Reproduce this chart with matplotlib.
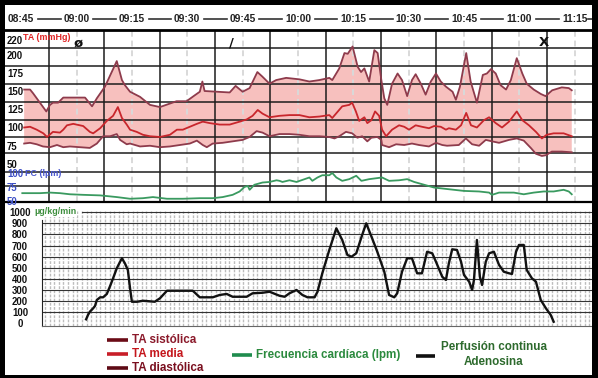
import matplotlib
matplotlib.use("Agg")
import matplotlib.pyplot as plt
from matplotlib.lines import Line2D
from matplotlib.patches import Rectangle
import numpy as np

plt.rcParams["font.family"] = ["Liberation Sans", "DejaVu Sans"]
plt.rcParams["font.weight"] = "bold"

W, H = 598, 378

# ── data (time = minutes after 08:45) ────────────────────────────────────
TIME_LABELS = ["08:45", "09:00", "09:15", "09:30", "09:45", "10:00",
               "10:15", "10:30", "10:45", "11:00", "11:15"]
TA_TICKS = [220, 200, 175, 150, 125, 100, 75, 50]
FC_TICKS = [100, 75, 50]
PERF_TICKS = [0, 100, 200, 300, 400, 500, 600, 700, 800, 900, 1000]

sys_t = [0.8, 2.4, 3.2, 6.8, 7.8, 8.6, 10.0, 11.4, 17.3, 19.2,
         20.5, 22.7, 25.9, 27.3, 28.1, 29.5, 32.2, 34.9, 37.6, 42.1,
         44.8, 47.0, 48.4, 49.1, 49.7, 56.5, 58.1, 60.0, 61.9, 64.0,
         65.3, 67.3, 69.1, 71.8, 75.4, 78.1, 80.8, 83.5, 84.3, 86.2,
         87.6, 88.5, 89.8, 91.2, 92.1, 93.0, 94.3, 95.7, 96.6, 97.6,
         98.4, 99.2, 100.5, 102.0, 103.2, 104.6, 105.9, 106.9, 108.3, 109.6,
         111.0, 112.4, 113.7, 115.1, 116.9, 117.8, 118.9, 120.6, 121.8, 123.5,
         125.1, 126.2, 127.3, 128.6, 129.9, 131.4, 132.7, 134.3, 135.8, 137.0,
         138.9, 140.8, 142.1, 143.9, 146.5, 148.4, 149.2]
sys_v = [152, 152, 147, 122, 131, 134, 134, 141, 141, 129,
         140, 156, 191, 165, 158, 149, 142, 131, 128, 136,
         136, 144, 149, 163, 150, 148, 157, 149, 154, 176,
         170, 160, 165, 168, 166, 163, 165, 168, 165, 181,
         202, 201, 211, 183, 176, 181, 163, 206, 202, 165,
         140, 131, 160, 174, 165, 143, 165, 173, 160, 145,
         163, 174, 163, 156, 149, 138, 156, 202, 163, 134,
         172, 174, 180, 174, 158, 152, 165, 195, 174, 160,
         152, 146, 143, 151, 155, 154, 151]

med_t = [0.8, 2.4, 4.2, 6.0, 7.0, 8.6, 10.5, 11.4, 12.4, 14.1,
         16.8, 18.6, 19.5, 21.4, 23.2, 24.9, 26.2, 27.3, 28.6, 29.5,
         31.3, 33.0, 34.9, 37.6, 40.3, 42.2, 43.8, 45.7, 47.6, 49.2,
         51.1, 53.8, 56.5, 59.2, 61.1, 62.7, 64.1, 65.4, 67.3, 70.0,
         72.7, 75.4, 78.1, 80.8, 83.5, 84.3, 87.0, 88.9, 89.7, 90.7,
         91.6, 93.0, 93.8, 94.9, 95.9, 97.0, 97.8, 98.9, 100.5, 102.4,
         103.8, 105.1, 106.9, 108.6, 110.5, 111.9, 113.7, 115.1, 115.9, 117.8,
         119.2, 120.6, 121.9, 123.5, 125.4, 126.8, 128.6, 130.3, 132.2, 134.3,
         135.8, 137.6, 139.5, 141.1, 142.4, 144.3, 147.0, 149.2]
med_v = [100, 101, 97, 92, 87, 94, 93, 97, 103, 105,
         102, 94, 92, 99, 109, 116, 128, 113, 104, 97,
         94, 90, 88, 87, 90, 97, 97, 101, 105, 108,
         106, 104, 104, 108, 111, 116, 124, 119, 114, 116,
         117, 117, 114, 115, 117, 113, 129, 131, 134, 122,
         109, 114, 106, 110, 122, 116, 97, 88, 97, 103,
         101, 97, 103, 101, 99, 102, 101, 97, 99, 97,
         103, 120, 103, 100, 110, 114, 106, 100, 108, 122,
         110, 103, 94, 85, 90, 92, 92, 88]

dia_t = [0.8, 2.4, 4.2, 5.9, 7.8, 9.7, 11.4, 13.2, 15.9, 18.6,
         20.5, 22.2, 24.1, 25.9, 26.8, 28.6, 29.5, 32.2, 34.9, 37.6,
         40.3, 43.0, 45.7, 47.6, 49.2, 50.3, 51.9, 54.6, 57.3, 60.0,
         61.9, 63.8, 65.4, 67.3, 70.0, 72.7, 75.4, 78.1, 80.8, 83.5,
         84.9, 86.2, 88.0, 89.7, 91.1, 92.4, 93.8, 94.9, 96.5, 97.6,
         97.8, 99.7, 101.6, 103.8, 105.9, 107.8, 110.5, 112.4, 114.1, 115.4,
         118.6, 120.5, 122.2, 124.1, 125.9, 127.6, 129.5, 132.2, 134.3, 136.2,
         138.1, 139.5, 141.1, 142.2, 143.8, 146.5, 149.2]
dia_v = [78, 79, 77, 74, 73, 76, 73, 74, 73, 72,
         78, 88, 88, 91, 83, 77, 78, 74, 75, 73,
         74, 76, 78, 82, 76, 73, 78, 79, 81, 83,
         87, 95, 93, 88, 91, 91, 90, 88, 88, 87,
         85, 88, 94, 92, 86, 88, 81, 86, 87, 83,
         76, 73, 77, 76, 78, 76, 74, 79, 76, 75,
         76, 85, 77, 75, 83, 81, 79, 83, 85, 82,
         72, 64, 61, 62, 67, 67, 66]

fc_t = [0.3, 5.1, 7.8, 10.5, 13.2, 16.8, 21.4, 25.9, 29.5, 33.0,
        35.7, 39.5, 43.8, 48.4, 51.9, 54.6, 57.3, 59.2, 60.5, 61.4,
        61.9, 63.2, 65.4, 67.3, 69.2, 70.0, 70.8, 72.7, 74.6, 76.8,
        78.1, 78.9, 80.3, 81.6, 83.5, 84.3, 85.4, 87.0, 88.9, 90.8,
        92.2, 94.3, 97.8, 99.7, 102.4, 104.6, 106.5, 109.2, 111.9, 115.9,
        120.0, 124.1, 126.8, 127.6, 129.5, 133.5, 136.2, 138.9, 141.6, 144.3,
        147.0, 148.4, 149.2]
fc_v = [64, 64, 65, 64, 62, 61, 60, 57, 54, 55,
        57, 54, 54, 55, 55, 57, 61, 67, 75, 77,
        70, 79, 83, 84, 87, 86, 84, 87, 84, 89,
        92, 86, 92, 96, 96, 100, 92, 86, 89, 95,
        86, 89, 92, 86, 87, 89, 84, 79, 74, 71,
        68, 67, 65, 61, 65, 65, 62, 65, 67, 67,
        70, 67, 62]

perf_t = [17.6, 18.1, 18.6, 19.5, 20.0, 20.5, 21.4, 22.2, 23.2, 24.1,
          24.9, 25.9, 26.8, 27.3, 28.1, 28.9, 29.5, 30.0, 31.4, 33.0,
          36.2, 37.6, 39.5, 41.6, 46.5, 48.4, 51.9, 53.8, 55.7, 57.3,
          61.1, 62.7, 65.4, 67.3, 70.0, 71.4, 72.7, 74.6, 76.2, 77.6,
          79.5, 80.3, 81.6, 83.5, 85.4, 87.0, 88.4, 89.5, 90.8, 92.4,
          93.5, 95.1, 96.5, 98.4, 99.7, 101.1, 101.9, 103.2, 104.6, 105.9,
          107.3, 108.6, 110.0, 111.4, 112.4, 114.1, 115.1, 115.9, 116.8, 118.1,
          119.2, 120.0, 121.4, 122.2, 122.7, 123.5, 124.3, 124.9, 125.9, 126.8,
          128.1, 129.5, 130.8, 132.2, 133.0, 134.1, 134.9, 136.2, 137.0, 138.4,
          139.5, 140.8, 142.2, 143.5, 144.3]
perf_v = [36, 75, 104, 135, 156, 210, 234, 234, 264, 336,
          405, 495, 554, 585, 540, 480, 315, 194, 194, 203,
          194, 225, 293, 293, 293, 234, 234, 255, 264, 239,
          239, 270, 275, 284, 248, 239, 270, 300, 255, 234,
          234, 284, 450, 660, 855, 750, 615, 599, 630, 795,
          900, 765, 644, 464, 255, 234, 270, 464, 585, 585,
          450, 450, 644, 630, 554, 419, 390, 540, 666, 660,
          554, 435, 374, 300, 390, 750, 419, 345, 554, 630,
          644, 525, 464, 450, 444, 644, 705, 705, 480, 405,
          374, 210, 135, 75, 14]

# event marks drawn on top of the TA panel
event_t = [15.4, 57.0, 141.6]
event_mark = ["ø", "/", "X"]

# ── layout helpers ───────────────────────────────────────────────────────
fig = plt.figure(figsize=(W / 100, H / 100), dpi=100)
fig.patch.set_facecolor("white")


def px_axes(x0, y0, x1, y1):
    return fig.add_axes([x0 / W, 1 - y1 / H, (x1 - x0) / W, (y1 - y0) / H])


def t_of_px(x):
    return (x - 21.2) / 3.69


def fig_text(x, y, s, size, **kw):
    fig.text(x / W, 1 - y / H, s, va="center", fontsize=size, **kw)


def fig_line(x0, x1, y, color, lw=2.6):
    fig.add_artist(Line2D([x0 / W, x1 / W], [1 - y / H] * 2, transform=fig.transFigure,
                          color=color, lw=lw, solid_capstyle="butt"))


XL = (t_of_px(5), t_of_px(592))
GRID = "#1c1c1c"
TICK_FS = 6.9

# ── header with times ────────────────────────────────────────────────────
hax = px_axes(5, 5, 592, 29)
hax.set_xlim(XL)
hax.set_ylim(0, 1)
hax.axis("off")
for k, lab in enumerate(TIME_LABELS):
    hax.text(15 * k, 0.43, lab, ha="center", va="center", fontsize=7.4, color="#222")
    if k < len(TIME_LABELS) - 1:
        hax.plot([15 * k + 4.5, 15 * k + 10.7], [0.43, 0.43], color="#333", lw=1.2)
hax.plot([15 * 10 + 3.7, 15 * 10 + 4.9], [0.43, 0.43], color="#333", lw=1.2)

# ── upper panel: TA + FC ─────────────────────────────────────────────────
ax = px_axes(5, 30, 592, 202)
ax.set_xlim(XL)
ax.set_ylim(-2.1, 233.6)
for s in ["left", "right"]:
    ax.spines[s].set_visible(False)
ax.spines["top"].set_linewidth(2.0)
ax.spines["bottom"].set_linewidth(1.6)
ax.set_xticks([])
ax.set_yticks(TA_TICKS, [str(v) for v in TA_TICKS])
ax.tick_params(axis="y", length=0, pad=-1.5, labelsize=TICK_FS, labelcolor="#111")
for lab in ax.get_yticklabels():
    lab.set_ha("left")

ax.fill(np.r_[sys_t, dia_t[::-1]], np.r_[sys_v, dia_v[::-1]],
        color="#f7c0be", lw=0, zorder=1)
for v in [209, 184, 160, 135, 110, 87, 65, 39, 20]:
    ax.axhline(v, color=GRID, lw=1.1, zorder=2)
for k in range(10):
    ax.axvline(7.5 + 15 * k, color=GRID, lw=1.1, zorder=2)
for k in range(1, 11):
    ax.axvline(15 * k, color="#d9d9d9", lw=1.4, ls=(0, (3, 2)), zorder=1.5)

ax.plot(sys_t, sys_v, color="#8e3b4c", lw=1.3, zorder=3)
ax.plot(dia_t, dia_v, color="#8e3b4c", lw=1.3, zorder=3)
ax.plot(med_t, med_v, color="#c8262c", lw=1.3, zorder=3)

for t, m in zip(event_t, event_mark):
    ax.text(t, 216, m, ha="center", va="center", fontsize=9.5, color="#111",
            family="DejaVu Sans", zorder=4)

ax2 = ax.twinx()
ax2.set_xlim(XL)
ax2.set_ylim(48.2, 355.4)
for s in ax2.spines.values():
    s.set_visible(False)
ax2.yaxis.set_ticks_position("left")
ax2.set_yticks(FC_TICKS, [str(v) for v in FC_TICKS])
ax2.tick_params(axis="y", length=0, pad=-1.5, labelsize=TICK_FS, labelcolor="#3d4fc4")
for lab in ax2.get_yticklabels():
    lab.set_ha("left")
ax2.plot(fc_t, fc_v, color="#3a9a60", lw=1.3, zorder=3)

fig_text(23, 37, "TA (mmHg)", 6.4, color="#e02424")
fig_text(25, 173, "FC (lpm)", 6.4, color="#4a58d0")

# ── lower panel: perfusion ───────────────────────────────────────────────
axl = px_axes(42, 211, 592, 325.5)
axl.set_xlim(t_of_px(42), t_of_px(592))
axl.set_ylim(-19.8, 1010.7)
axl.spines["top"].set_visible(False)
axl.spines["right"].set_visible(False)
axl.spines["left"].set_color("#222")
axl.spines["left"].set_bounds(-19.8, 930)
axl.spines["bottom"].set_color("#666")
axl.spines["bottom"].set_linewidth(0.8)
axl.set_xticks([])
axl.set_yticks(PERF_TICKS, [str(v) for v in PERF_TICKS])
axl.tick_params(axis="y", length=0, pad=15.8, labelsize=TICK_FS, labelcolor="#111")
for lab in axl.get_yticklabels():
    lab.set_ha("center")

for t in np.arange(t_of_px(45), t_of_px(592), 1.25):
    axl.axvline(t, color="#bdbdbd", lw=1.0, ls=(0, (2, 1)), zorder=1)
for v in range(100, 1000, 100):
    axl.axhline(v, color="#333", lw=0.8, zorder=2)
axl.axhline(1000, xmin=40 / 550, color="#333", lw=0.8, zorder=2)
axl.plot(perf_t, perf_v, color="#111", lw=1.7, zorder=3)

fig_text(34, 212, "µg/kg/min", 6.4, color="#3e8e3e",
         bbox=dict(facecolor="white", edgecolor="none", pad=0.5))

# ── legend ───────────────────────────────────────────────────────────────
fig_line(107, 128, 340, "#6b0b16")
fig_line(107, 128, 354, "#c81e28")
fig_line(107, 128, 368, "#5e0a15")
fig_text(132, 340, "TA sistólica", 8.4, color="#8b1a2b")
fig_text(132, 354, "TA media", 8.4, color="#c4161c")
fig_text(132, 368, "TA diastólica", 8.4, color="#7a0f1f")
fig_line(232, 252, 355, "#1f8c4e")
fig_text(256, 355, "Frecuencia cardíaca (lpm)", 8.4, color="#2b8a3e")
fig_line(416, 435, 356, "#111")
fig_text(494, 347, "Perfusión continua", 8.4, color="#2d6a2d", ha="center")
fig_text(494, 362, "Adenosina", 8.4, color="#2d6a2d", ha="center")

# ── outer black frame ────────────────────────────────────────────────────
for x0, y0, w, h in [(0, 0, 5, H), (0, 0, W, 5), (592, 0, 6, H), (0, 375, W, 3)]:
    fig.add_artist(Rectangle((x0 / W, 1 - (y0 + h) / H), w / W, h / H,
                             transform=fig.transFigure, color="black", lw=0))

fig.savefig("out.png", dpi=100)
